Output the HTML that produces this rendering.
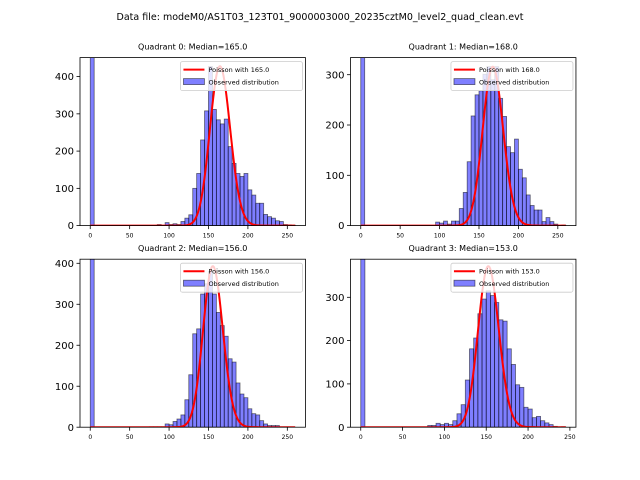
<!DOCTYPE html>
<html><head><meta charset="utf-8"><style>
body{margin:0;background:#fff;}
svg{display:block;font-family:"DejaVu Sans","Liberation Sans",sans-serif;}
</style></head><body>
<svg id="fig" width="640" height="480" viewBox="0 0 640 480">
<text x="320" y="20" font-size="9.5" text-anchor="middle">Data file: modeM0/AS1T03_123T01_9000003000_20235cztM0_level2_quad_clean.evt</text>
</svg>
<script>
const binStart = [0,0,0,0];
const binWidth = 5;
const medians = [165.0,168.0,156.0,153.0];
const poissonScale = [13780,10267,12304,11535];
const yMax = [451,334,410,388];
const xMaxData = [260,260,260,245];
const yTicks = [[0,100,200,300,400],[0,100,200,300],[0,100,200,300,400],[0,100,200,300]];
const xTicks = [0,50,100,150,200,250];
// counts per 5-wide bin, keyed by bin left edge
const zeroBin = [2000,2000,2000,2000];
const q0Edges = [85,95,100,105,110,115,120,125,130,135,140,145,150,155,160,165,170,175,180,185,190,195,200,205,210,215,220,225,230,235,240,245,250,255];
const q0Counts = [3,8,3,5,3,11,20,29,100,140,230,308,427,312,284,273,286,212,167,140,132,140,96,82,60,60,30,24,20,13,11,3,2,1];
const q1Edges = [95,100,105,110,115,120,125,130,135,140,145,150,155,160,165,170,175,180,185,190,195,200,205,210,215,220,225,230,235,240,245,255];
const q1Counts = [7,5,9,3,9,9,34,66,127,218,260,268,301,316,290,316,253,217,157,145,172,112,95,61,40,31,31,8,16,8,3,1];
const q2Edges = [75,80,85,90,95,100,105,110,115,120,125,130,135,140,145,150,155,160,165,170,175,180,185,190,195,200,205,210,215,220,225,230,235];
const q2Counts = [1,1,1,1,8,6,14,20,30,67,128,228,240,325,350,380,325,280,248,222,167,159,108,81,72,45,33,30,16,8,4,4,4];
const q3Edges = [80,85,90,95,100,105,110,115,120,125,130,135,140,145,150,155,160,165,170,175,180,185,190,195,200,205,210,215,220,225,230,240];
const q3Counts = [4,4,9,6,9,6,15,31,52,109,181,206,262,296,315,304,288,248,245,181,145,98,92,46,42,22,25,15,10,6,2,1];
const allEdges = [q0Edges,q1Edges,q2Edges,q3Edges];
const allCounts = [q0Counts,q1Counts,q2Counts,q3Counts];

const NS="http://www.w3.org/2000/svg";
const fig=document.getElementById('fig');
function mk(tag,attrs,parent){const e=document.createElementNS(NS,tag);for(const k in attrs)e.setAttribute(k,attrs[k]);(parent||fig).appendChild(e);return e;}
function lgamma(x){ // Stirling series
  return (x-0.5)*Math.log(x)-x+0.5*Math.log(2*Math.PI)+1/(12*x)-1/(360*x*x*x);
}
const axW=225.45, axH=168;
const lefts=[80,350.5,80,350.5], tops=[57.6,57.6,259.2,259.2];
for(let q=0;q<4;q++){
  const L=lefts[q],T=tops[q],B=T+axH,R=L+axW;
  const rng=xMaxData[q]-binStart[q];
  const x0=binStart[q]-0.05*rng, x1=xMaxData[q]+0.05*rng;
  const X=v=>L+(v-x0)/(x1-x0)*axW;
  const Y=v=>B-v/yMax[q]*axH;
  const g=mk('g',{});
  
  
  const cid='clip'+q;
  const cp=mk('clipPath',{id:cid},g);mk('rect',{x:L,y:T,width:axW,height:axH},cp);
  const plot=mk('g',{'clip-path':'url(#'+cid+')'},g);
  // bars
  const edges=[0].concat(allEdges[q]), counts=[zeroBin[q]].concat(allCounts[q]);
  for(let i=0;i<edges.length;i++){
    const r=mk('rect',{x:X(edges[i]),y:Y(counts[i]),width:X(edges[i]+binWidth)-X(edges[i]),height:B-Y(counts[i]),fill:'rgba(0,0,255,0.5)',stroke:'rgba(0,0,0,0.55)','stroke-width':0.8},plot);
    
    
  }
  // poisson curve
  let d='';
  const lam=medians[q];
  for(let k=0;k<=xMaxData[q];k++){
    const lp=k*Math.log(lam)-lam-(k<1?0:lgamma(k+1));
    const v=poissonScale[q]*Math.exp(lp);
    d+=(k?'L':'M')+X(k).toFixed(2)+','+Y(v).toFixed(2);
  }
  const pl=mk('path',{d:d,fill:'none',stroke:'#ff0000','stroke-width':2,'stroke-linejoin':'round'},plot);
  
  
  // frame
  const fr=mk('rect',{x:L,y:T,width:axW,height:axH,fill:'none',stroke:'#000','stroke-width':0.8},g);
  
  
  // y ticks
  yTicks[q].forEach(t=>{
    mk('line',{x1:L-3.5,x2:L,y1:Y(t),y2:Y(t),stroke:'#000','stroke-width':0.8},g);
    const tx=mk('text',{x:L-6,y:Y(t)+3.6,'font-size':10,'text-anchor':'end'},g);tx.textContent=t;
    
    
  });
  xTicks.forEach(t=>{
    mk('line',{x1:X(t),x2:X(t),y1:B,y2:B+3.5,stroke:'#000','stroke-width':0.8},g);
    const tx=mk('text',{x:X(t),y:B+12,'font-size':6,'text-anchor':'middle'},g);tx.textContent=t;
    
    
  });
  const ti=mk('text',{x:(L+R)/2,y:T-8,'font-size':8,'text-anchor':'middle'},g);
  ti.textContent='Quadrant '+q+': Median='+medians[q].toFixed(1);
  
  
  // legend
  const lg=mk('g',{},g);
  
  
  const lx=R-125, ly=T+4;
  mk('rect',{x:lx,y:ly,width:122,height:29,fill:'rgba(255,255,255,0.8)',stroke:'#ccc','stroke-width':0.8,rx:2},lg);
  mk('line',{x1:lx+3,x2:lx+24,y1:ly+8,y2:ly+8,stroke:'#ff0000','stroke-width':2},lg);
  mk('rect',{x:lx+3,y:ly+17,width:21,height:6,fill:'rgba(0,0,255,0.5)',stroke:'rgba(0,0,0,0.55)','stroke-width':0.8},lg);
  const t1=mk('text',{x:lx+28,y:ly+10.5,'font-size':6.5},lg);t1.textContent='Poisson with '+medians[q].toFixed(1);
  const t2=mk('text',{x:lx+28,y:ly+23,'font-size':6.5},lg);t2.textContent='Observed distribution';
}
</script>
</body></html>
